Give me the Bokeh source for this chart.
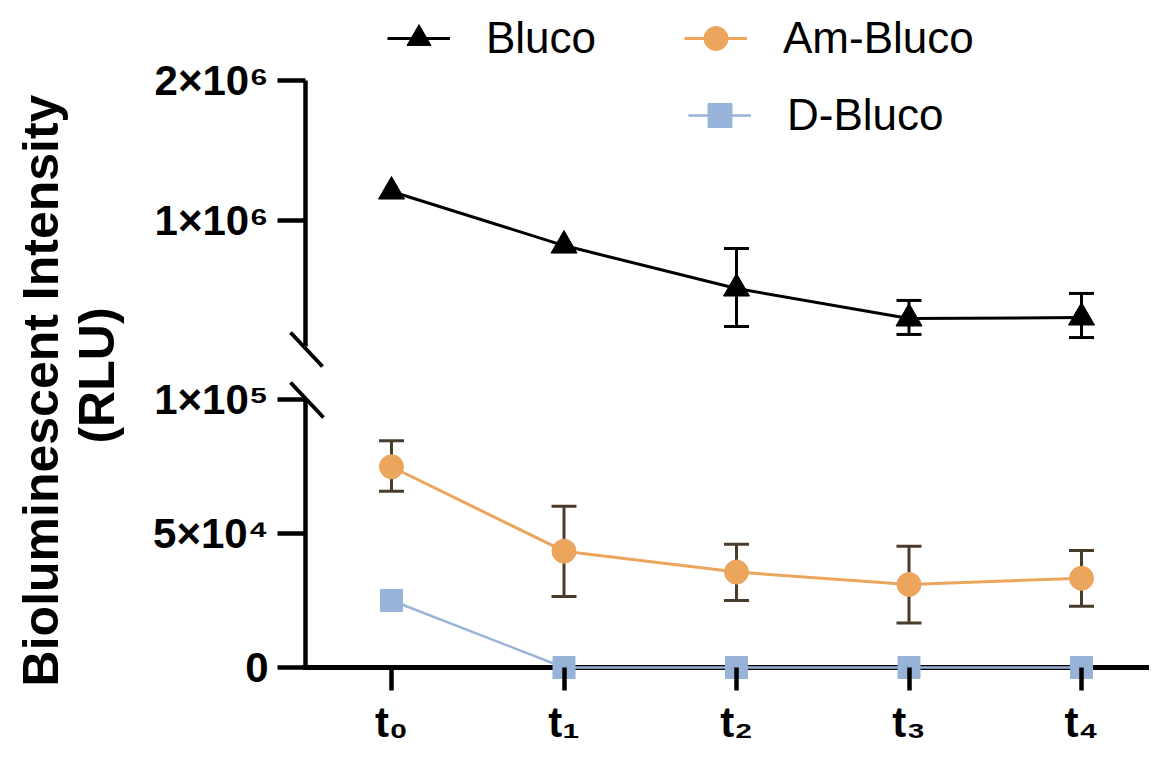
import math
from bokeh.plotting import figure
from bokeh.models import (Range1d, FixedTicker, Whisker, TeeHead, ColumnDataSource,
                          Legend, LegendItem, Label)
from bokeh.layouts import row, column
from bokeh.embed import file_html
from bokeh.resources import INLINE

# ---------------- data ----------------
time_points = [0, 1, 2, 3, 4]
time_labels = ["t₀", "t₁", "t₂", "t₃", "t₄"]

bluco = [1207000, 821000, 514000, 300000, 307000]
bluco_err_x = [2, 3, 4]
bluco_err_upper = [800000, 429000, 479000]
bluco_err_lower = [243000, 186000, 164000]

am_bluco = [74900, 43400, 35600, 31000, 33300]
am_bluco_upper = [84600, 60200, 46000, 45200, 43700]
am_bluco_lower = [65800, 26500, 25000, 16600, 22900]

d_bluco = [25000, 0, 0, 0, 0]

upper_ticks = [1000000, 2000000]
upper_tick_labels = ["1×10⁶", "2×10⁶"]
lower_ticks = [0, 50000, 100000]
lower_tick_labels = ["0", "5×10⁴", "1×10⁵"]

# ---------------- style / layout ----------------
FONT = "Liberation Sans"
BLACK = "#000000"
ORANGE = "#EBA55D"
BLUE = "#98B3D8"
BROWN = "#4A3C2C"

TITLE_W = 138
LEFT = 145          # frame left at 283 px
FRAME_W = 866       # frame right at 1149 px
UP_H = 372          # upper frame 0..372
LO_H = 308          # lower frame 372..680

X0, X1 = -0.6261, 4.3942
x_range = Range1d(X0, X1)
UP_Y = (-85714, 2571429)
LO_Y = (-4851, 110075)
NAN = float("nan")


# decoration helpers (pixel positions of axis lines / break marks -> data units)
def xd(px):
    return X0 + (px - 283) * (X1 - X0) / FRAME_W

def yu(py):
    return UP_Y[1] - py * (UP_Y[1] - UP_Y[0]) / UP_H

def yl(py):
    return LO_Y[1] - (py - 372) * (LO_Y[1] - LO_Y[0]) / LO_H


def style_yaxis(p, ticks, labels):
    ax = p.yaxis[0]
    ax.ticker = FixedTicker(ticks=ticks)
    ax.major_label_overrides = {float(t): l for t, l in zip(ticks, labels)}
    ax.axis_line_color = None
    ax.major_tick_line_width = 4.5
    ax.major_tick_line_color = BLACK
    ax.major_tick_out = 6
    ax.major_tick_in = 22
    ax.minor_tick_line_color = None
    ax.major_label_text_font = FONT
    ax.major_label_text_font_style = "bold"
    ax.major_label_text_font_size = "42px"
    ax.major_label_text_color = BLACK
    ax.major_label_standoff = 9


def base_fig(height, y_range, **kw):
    p = figure(frame_width=FRAME_W, frame_height=height, x_range=x_range,
               y_range=Range1d(*y_range),
               output_backend="svg", toolbar_location=None,
               min_border_left=LEFT, min_border_right=0, min_border_top=0, min_border_bottom=0,
               **kw)
    p.grid.visible = False
    p.outline_line_color = None
    p.background_fill_color = "white"
    return p


# ---------------- upper segment ----------------
up = base_fig(UP_H, UP_Y, x_axis_location=None)
style_yaxis(up, upper_ticks, upper_tick_labels)
# axis line and break mark
up.segment(x0=[xd(305)], y0=[100000], x1=[xd(305)], y1=[2000000], line_width=4.5, line_color=BLACK)
up.segment(x0=[xd(290)], y0=[yu(332)], x1=[xd(322)], y1=[yu(366)], line_width=4, line_color=BLACK)

src_b = ColumnDataSource(dict(x=time_points, y=bluco))
src_be = ColumnDataSource(dict(x=bluco_err_x, upper=bluco_err_upper, lower=bluco_err_lower))
up.add_layout(Whisker(base="x", upper="upper", lower="lower", source=src_be,
                      line_color=BLACK, line_width=3,
                      upper_head=TeeHead(size=25, line_width=3, line_color=BLACK),
                      lower_head=TeeHead(size=25, line_width=3, line_color=BLACK)))
l_b = up.line("x", "y", source=src_b, line_color=BLACK, line_width=3)
m_b = up.scatter("x", "y", source=src_b, marker="triangle", size=26,
                 fill_color=BLACK, line_color=BLACK)

# legend proxies (not drawn: NaN position) for series drawn in the lower segment
pl_a = up.line(x=[NAN], y=[NAN], line_color=ORANGE, line_width=3)
pm_a = up.scatter(x=[NAN], y=[NAN], marker="circle", size=24, fill_color=ORANGE, line_color=ORANGE)
pl_d = up.line(x=[NAN], y=[NAN], line_color=BLUE, line_width=2.5)
pm_d = up.scatter(x=[NAN], y=[NAN], marker="square", size=22, fill_color=BLUE, line_color=BLUE)

# ---------------- lower segment ----------------
lo = base_fig(LO_H, LO_Y)
style_yaxis(lo, lower_ticks, lower_tick_labels)
xa = lo.xaxis[0]
xa.ticker = FixedTicker(ticks=time_points)
xa.major_label_overrides = {float(t): l for t, l in zip(time_points, time_labels)}
xa.axis_line_color = None
xa.major_tick_line_width = 4.5
xa.major_tick_line_color = BLACK
xa.major_tick_out = 10
xa.major_tick_in = 13
xa.minor_tick_line_color = None
xa.major_label_text_font = FONT
xa.major_label_text_font_style = "bold"
xa.major_label_text_font_size = "42px"
xa.major_label_text_color = BLACK
xa.major_label_standoff = 8

# axis lines and break mark
lo.segment(x0=[xd(305)], y0=[0], x1=[xd(305)], y1=[100000], line_width=4.5, line_color=BLACK)
lo.segment(x0=[xd(302)], y0=[0], x1=[X1], y1=[0], line_width=5, line_color=BLACK)
lo.segment(x0=[xd(290)], y0=[yl(382)], x1=[xd(323)], y1=[yl(417)], line_width=4, line_color=BLACK)

src_a = ColumnDataSource(dict(x=time_points, y=am_bluco, upper=am_bluco_upper, lower=am_bluco_lower))
src_d = ColumnDataSource(dict(x=time_points, y=d_bluco))
lo.add_layout(Whisker(base="x", upper="upper", lower="lower", source=src_a,
                      line_color=BROWN, line_width=3,
                      upper_head=TeeHead(size=25, line_width=3, line_color=BROWN),
                      lower_head=TeeHead(size=25, line_width=3, line_color=BROWN)))
lo.line("x", "y", source=src_a, line_color=ORANGE, line_width=3)
lo.scatter("x", "y", source=src_a, marker="circle", size=24, fill_color=ORANGE, line_color=ORANGE)
lo.line("x", "y", source=src_d, line_color=BLUE, line_width=2.5)
lo.scatter("x", "y", source=src_d, marker="square", size=22, fill_color=BLUE, line_color=BLUE)

# ---------------- legends ----------------
def add_legend(p, label, renderers, loc):
    lg = Legend(items=[LegendItem(label=label, renderers=renderers)], location=loc,
                glyph_width=63, glyph_height=60, label_standoff=36,
                label_text_font=FONT, label_text_font_size="44px", label_text_color=BLACK,
                padding=0, margin=0, spacing=0, border_line_color=None,
                background_fill_alpha=0)
    p.add_layout(lg)

add_legend(up, "Bluco", [l_b, m_b], (104, 304))
add_legend(up, "Am-Bluco", [pl_a, pm_a], (401, 304))
add_legend(up, "D-Bluco", [pl_d, pm_d], (405, 227))

# ---------------- y-axis title ----------------
TITLE_H = 744
tp = figure(width=TITLE_W, height=TITLE_H, x_range=Range1d(0, 1), y_range=Range1d(0, 1),
            x_axis_location=None, y_axis_location=None, min_border=0,
            output_backend="svg", toolbar_location=None)
tp.grid.visible = False
tp.outline_line_color = None
tp.add_layout(Label(x=40, y=354, x_units="screen", y_units="screen",
                    text="Bioluminescent Intensity", angle=math.pi / 2,
                    text_align="center", text_baseline="middle", text_color=BLACK,
                    text_font=FONT, text_font_style="bold", text_font_size="50px"))
tp.add_layout(Label(x=96, y=369, x_units="screen", y_units="screen",
                    text="(RLU)", angle=math.pi / 2,
                    text_align="center", text_baseline="middle", text_color=BLACK,
                    text_font=FONT, text_font_style="bold", text_font_size="50px"))

layout = row(tp, column(up, lo, spacing=0), spacing=0)
open("out.html", "w").write(file_html(layout, INLINE))
